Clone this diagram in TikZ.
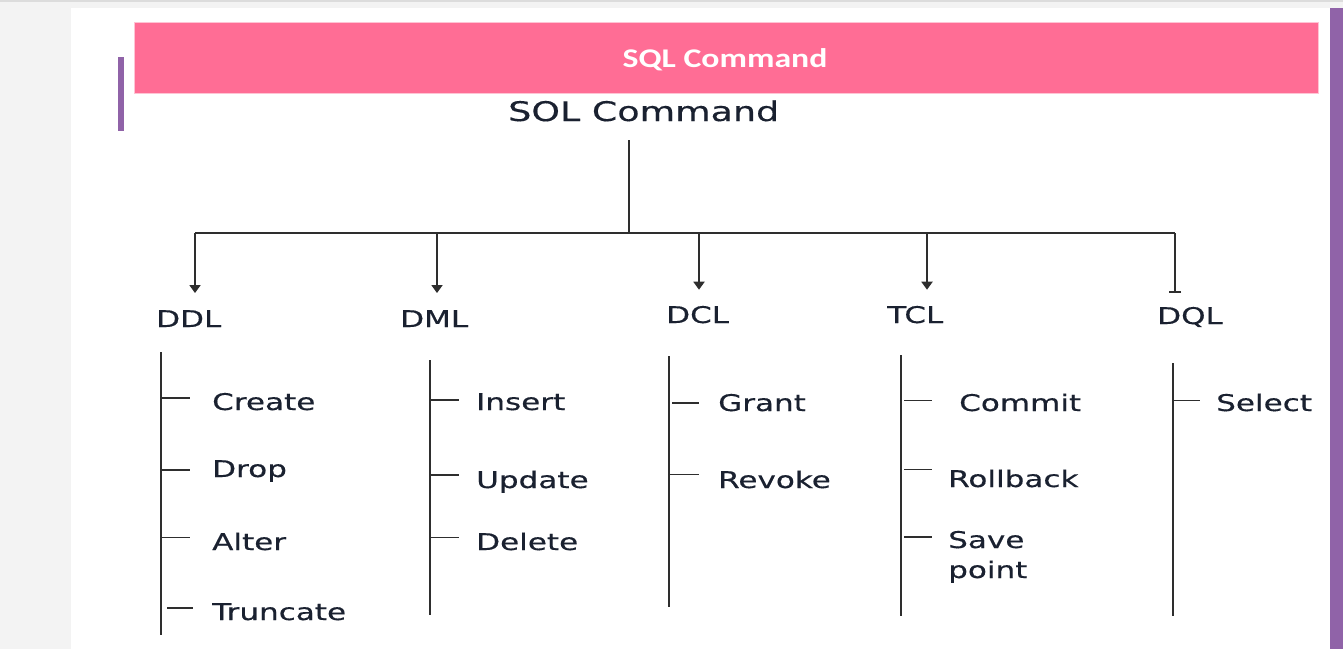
\documentclass[tikz,border=0pt]{standalone}
\usepackage{fontspec}
\setmainfont{DejaVu Sans}[FakeStretch=1.35, FakeBold=0.35]
\newfontfamily\bannerfont{Carlito}[FakeStretch=1.25]
\usetikzlibrary{arrows.meta}

\definecolor{pagegray}{HTML}{F3F3F3}
\definecolor{rulegray}{HTML}{DCDCDC}
\definecolor{bannerpink}{HTML}{FF6D95}
\definecolor{banneredge}{HTML}{FFC4D4}
\definecolor{sidepurple}{HTML}{9063A8}
\definecolor{inkblue}{HTML}{1A2130}
\definecolor{wire}{HTML}{2E2E2E}

\tikzset{
  cmdtext/.style={anchor=base west, inner sep=0pt, text=inkblue,
    font=\fontsize{23}{30}\selectfont},
  wireline/.style={draw=wire, line width=1.8pt},
  downarrow/.style={wireline, -{Triangle[length=8pt,width=11pt]}},
  stoparrow/.style={wireline, -{Bar[width=12pt,line width=2pt]}},
}

\begin{document}
\begin{tikzpicture}[x=1pt, y=-1pt]
    \useasboundingbox (0,0) rectangle (1343,649);

    % --- 1. page, banner and side bars ---
    \fill[pagegray] (0,0) rectangle (1343,649);
    \fill[rulegray] (0,0) rectangle (1343,2);
    \fill[white] (71,8) rectangle (1330,649);
    \fill[sidepurple] (1330,8) rectangle (1343,649);
    \fill[sidepurple] (118,57) rectangle (124,131);
    \filldraw[fill=bannerpink, draw=banneredge, line width=1pt] (134,22) rectangle (1318,93);
    \node[anchor=base, inner sep=0pt, text=white,
          font=\bannerfont\bfseries\fontsize{27}{30}\selectfont] (banner) at (725,67) {SQL Command};

    % --- 2. root of the tree ---
    \node[cmdtext, font=\fontsize{27}{30}\selectfont] (root) at (508,121) {SOL Command};
    \coordinate (stem) at (629,140);
    \coordinate (hub) at (629,233);
    \draw[wireline] (stem) -- (hub);

    % --- 3. the five kinds ---
    \node[cmdtext] (ddl) at (156,327) {DDL};
    \node[cmdtext] (dml) at (400,327) {DML};
    \node[cmdtext] (dcl) at (666,323) {DCL};
    \node[cmdtext] (tcl) at (887,323) {TCL};
    \node[cmdtext] (dql) at (1157,324) {DQL};

    \coordinate (ddlTop) at (195,233);
    \coordinate (dmlTop) at (437,233);
    \coordinate (dclTop) at (699,233);
    \coordinate (tclTop) at (927,233);
    \coordinate (dqlTop) at (1175,233);
    \draw[wireline] (ddlTop) -- (dqlTop);

    \draw[downarrow, shorten >=17pt] (ddlTop) -- (ddlTop |- ddl.north);
    \draw[downarrow, shorten >=17pt] (dmlTop) -- (dmlTop |- dml.north);
    \draw[downarrow, shorten >=16pt] (dclTop) -- (dclTop |- dcl.north);
    \draw[downarrow, shorten >=16pt] (tclTop) -- (tclTop |- tcl.north);
    \draw[stoparrow, shorten >=14pt] (dqlTop) -- (dqlTop |- dql.north);

    % --- 4. DDL ---
    \coordinate (ddlRail) at (161,352);
    \coordinate (ddlEnd) at (161,635);
    \draw[wireline] (ddlRail) -- (ddlEnd);
    \node[cmdtext] (create) at (212,410) {Create};
    \node[cmdtext] (drop) at (212,477) {Drop};
    \node[cmdtext] (alter) at (212,550) {Alter};
    \node[cmdtext] (truncate) at (212,620) {Truncate};
    \draw[wireline] (ddlRail |- create.west) ++(0,-4) -- ++(29,0);
    \draw[wireline] (ddlRail |- drop.west) ++(0,-1) -- ++(29,0);
    \draw[wireline] (ddlRail |- alter.west) ++(0,-4) -- ++(29,0);
    \draw[wireline] (ddlRail |- truncate.west) ++(6,-4) -- ++(26,0);

    % --- 5. DML ---
    \coordinate (dmlRail) at (430,360);
    \coordinate (dmlEnd) at (430,615);
    \draw[wireline] (dmlRail) -- (dmlEnd);
    \node[cmdtext] (insert) at (476,410) {Insert};
    \node[cmdtext] (update) at (476,488) {Update};
    \node[cmdtext] (delete) at (476,550) {Delete};
    \draw[wireline] (dmlRail |- insert.west) ++(0,-2) -- ++(29,0);
    \draw[wireline] (dmlRail |- update.west) ++(0,-7) -- ++(29,0);
    \draw[wireline] (dmlRail |- delete.west) ++(0,-4) -- ++(29,0);

    % --- 6. DCL ---
    \coordinate (dclRail) at (669,356);
    \coordinate (dclEnd) at (669,607);
    \draw[wireline] (dclRail) -- (dclEnd);
    \node[cmdtext] (grant) at (718,411) {Grant};
    \node[cmdtext] (revoke) at (718,488) {Revoke};
    \draw[wireline] (dclRail |- grant.west) ++(3,0) -- ++(27,0);
    \draw[wireline] (dclRail |- revoke.west) ++(0,-5) -- ++(30,0);

    % --- 7. TCL ---
    \coordinate (tclRail) at (901,355);
    \coordinate (tclEnd) at (901,616);
    \draw[wireline] (tclRail) -- (tclEnd);
    \node[cmdtext] (commit) at (959,411) {Commit};
    \node[cmdtext] (rollback) at (948,487) {Rollback};
    \node[cmdtext, align=left] (savepoint) at (948,578) {Save\\point};
    \draw[wireline] (tclRail |- commit.west) ++(3,-2) -- ++(28,0);
    \draw[wireline] (tclRail |- rollback.west) ++(3,-9) -- ++(28,0);
    \coordinate (saveTick) at (904,537);
    \draw[wireline] (saveTick) -- ++(28,0);

    % --- 8. DQL ---
    \coordinate (dqlRail) at (1173,363);
    \coordinate (dqlEnd) at (1173,616);
    \draw[wireline] (dqlRail) -- (dqlEnd);
    \node[cmdtext] (select) at (1216,411) {Select};
    \draw[wireline] (dqlRail |- select.west) ++(0,-2) -- ++(27,0);

\end{tikzpicture}
\end{document}
